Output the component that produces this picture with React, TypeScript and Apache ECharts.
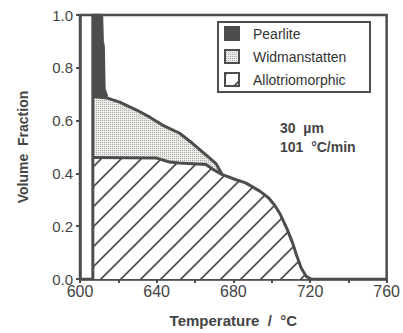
import React, { useEffect, useRef } from 'react';
import * as echarts from 'echarts';

// Temperature axis ticks (°C) and volume-fraction ticks
const xTicks = [600, 620, 640, 660, 680, 700, 720, 740, 760];
const xLabelTicks = [600, 640, 680, 720, 760];
const yTicks = [0, 0.2, 0.4, 0.6, 0.8, 1.0];

// Cumulative fraction (allotriomorphic + Widmanstatten + pearlite) — top of pearlite
const totalT = [606.7, 606.7, 611.3, 611.7, 612.2, 612.6, 614.0];
const totalV = [0, 1.0, 1.0, 0.9, 0.88, 0.72, 0.69];

// Cumulative fraction (allotriomorphic + Widmanstatten) — top of Widmanstatten
const widT = [606.7, 608.0, 614.0, 620.7, 629.5, 636.2, 643.0, 651.8, 658.5, 665.7, 671.0, 674.0];
const widV = [0.69, 0.69, 0.686, 0.67, 0.64, 0.614, 0.583, 0.553, 0.515, 0.47, 0.437, 0.398];

// Allotriomorphic ferrite fraction
const allotT = [606.7, 640.0, 646.6, 651.8, 665.7, 669.5, 674.0, 681.0, 686.4, 690.0, 694.0, 698.3, 701.5, 704.5, 708.0, 711.0, 713.0, 715.4, 718.0, 720.5];
const allotV = [0.46, 0.458, 0.443, 0.439, 0.434, 0.415, 0.396, 0.377, 0.364, 0.349, 0.332, 0.308, 0.28, 0.245, 0.19, 0.135, 0.09, 0.042, 0.01, 0];

const legendNames = ['Pearlite', 'Widmanstatten', 'Allotriomorphic'];
const noteLines = ['30  µm', '101  °C/min'];

const svgUrl = (s: string) => 'data:image/svg+xml;charset=utf-8,' + encodeURIComponent(s);

const hatchUrl = svgUrl(
  "<svg xmlns='http://www.w3.org/2000/svg' width='20' height='20'>" +
    "<rect width='20' height='20' fill='#ffffff'/>" +
    "<path d='M-5,5 L5,-5 M0,20 L20,0 M15,25 L25,15' stroke='#4a4a4a' stroke-width='1.6'/>" +
    '</svg>'
);
const stippleUrl = svgUrl(
  "<svg xmlns='http://www.w3.org/2000/svg' width='2' height='2'>" +
    "<rect width='2' height='2' fill='#ecece8'/>" +
    "<rect width='1' height='1' fill='#a8a8a4'/>" +
    '</svg>'
);

const hatch: any = { image: hatchUrl, repeat: 'repeat', imageWidth: 20, imageHeight: 20 };
const stipple: any = { image: stippleUrl, repeat: 'repeat', imageWidth: 2, imageHeight: 2 };

const zip = (a: number[], b: number[]) => a.map((v, i) => [v, b[i]]);

const INK = '#4d4d4d';
const FONT = '"Liberation Sans", Arial, Helvetica, sans-serif';

export default function App() {
  const ref = useRef<HTMLDivElement>(null);
  useEffect(() => {
    if (!ref.current) return;
    const chart = echarts.init(ref.current, undefined, { renderer: 'svg' });
    const lineStyle = { color: INK, width: 3 };
    const legendFills = [INK, stipple, hatch];
    chart.setOption({
      animation: false,
      backgroundColor: '#ffffff',
      grid: { left: 80, right: 14, top: 15, bottom: 54, show: true, borderColor: INK, borderWidth: 2.5 },
      xAxis: {
        type: 'value',
        min: xTicks[0],
        max: xTicks[xTicks.length - 1],
        interval: xTicks[1] - xTicks[0],
        splitLine: { show: false },
        axisLine: { lineStyle: { color: INK, width: 2.5 } },
        axisTick: { length: 4, lineStyle: { color: INK, width: 2 } },
        axisLabel: {
          color: '#444',
          fontSize: 16,
          fontFamily: FONT,
          margin: 4,
          formatter: (v: number) => (xLabelTicks.includes(v) ? String(v) : ''),
        },
        name: 'Temperature  /  °C',
        nameLocation: 'middle',
        nameGap: 34,
        nameTextStyle: { color: '#444', fontSize: 15, fontWeight: 'bold', fontFamily: FONT },
      },
      yAxis: {
        type: 'value',
        min: yTicks[0],
        max: yTicks[yTicks.length - 1],
        interval: 0.2,
        splitLine: { show: false },
        axisLine: { show: true, lineStyle: { color: INK, width: 2.5 } },
        axisTick: { show: true, length: 4, lineStyle: { color: INK, width: 2 } },
        axisLabel: {
          color: '#444',
          fontSize: 15,
          fontFamily: FONT,
          margin: 7,
          formatter: (v: number) => v.toFixed(1),
        },
        name: 'Volume  Fraction',
        nameLocation: 'middle',
        nameGap: 50,
        nameTextStyle: { color: '#444', fontSize: 14, fontWeight: 'bold', fontFamily: FONT },
      },
      series: [
        {
          name: legendNames[0],
          type: 'line',
          data: zip(totalT, totalV),
          showSymbol: false,
          lineStyle,
          areaStyle: { color: INK, opacity: 1 },
        },
        {
          name: legendNames[1],
          type: 'line',
          data: zip(widT, widV),
          showSymbol: false,
          lineStyle,
          areaStyle: { color: stipple, opacity: 1 },
        },
        {
          name: legendNames[2],
          type: 'line',
          data: zip(allotT, allotV),
          showSymbol: false,
          lineStyle,
          areaStyle: { color: hatch, opacity: 1 },
        },
      ],
      graphic: [
        {
          type: 'rect',
          shape: { x: 218, y: 22, width: 152, height: 70 },
          style: { fill: '#ffffff', stroke: INK, lineWidth: 2 },
          z: 10,
        },
        ...legendNames.flatMap((n, i) => [
          {
            type: 'rect',
            shape: { x: 225, y: 27 + i * 23, width: 14, height: 13 },
            style: { fill: legendFills[i], stroke: INK, lineWidth: 2 },
            z: 11,
          },
          {
            type: 'text',
            x: 253,
            y: 34 + i * 23,
            style: { text: n, fill: '#333', fontSize: 14, fontFamily: FONT, verticalAlign: 'middle' },
            z: 11,
          },
        ]),
        ...noteLines.map((t, i) => ({
          type: 'text',
          x: 280,
          y: 128 + i * 19,
          style: { text: t, fill: '#444', fontSize: 14, fontWeight: 'bold', fontFamily: FONT, verticalAlign: 'middle' },
          z: 11,
        })),
      ],
    });
    return () => chart.dispose();
  }, []);
  return (
    <div
      ref={ref}
      style={{ position: 'fixed', left: 0, top: 0, width: 403, height: 333, background: '#fff' }}
    />
  );
}
